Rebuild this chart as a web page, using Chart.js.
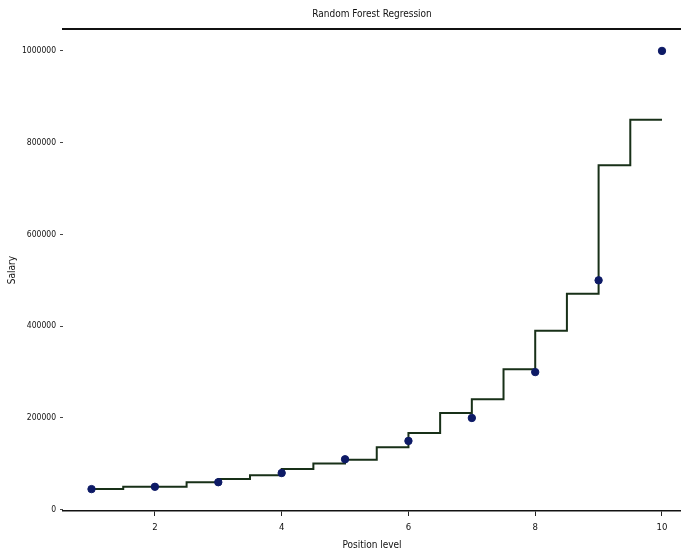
<!DOCTYPE html>
<html>
<head>
<meta charset="utf-8">
<script src="https://cdn.jsdelivr.net/npm/chart.js@4.4.1/dist/chart.umd.min.js"></script>
<style>
  html, body { margin: 0; padding: 0; background: #fff; }
  #wrap { width: 681px; height: 553px; position: relative; }
</style>
</head>
<body>
<div id="wrap"><canvas id="rfChart"></canvas></div>
<script>
// observed data (position level vs salary)
const levels = [1, 2, 3, 4, 5, 6, 7, 8, 9, 10];
const salaries = [45000, 50000, 60000, 80000, 110000, 150000, 200000, 300000, 500000, 1000000];

// random forest prediction
const stepX = [1, 1.5, 2, 2.5, 3, 3.5, 4, 4.5, 5, 5.5, 6, 6.5, 7, 7.5, 8, 8.5, 9, 9.5, 10];
const stepY = [45000, 50000, 50000, 60000, 67000, 75000, 89000, 101000, 109000, 136000,
  167000, 211000, 241000, 306000, 390000, 471000, 751000, 850000, 850000];

const xTicks = [2, 4, 6, 8, 10];
const yTicks = [0, 200000, 400000, 600000, 800000, 1000000];

const FONT = "'Liberation Sans Narrow', 'DejaVu Sans Condensed', 'Liberation Sans', sans-serif";

const ctx = document.getElementById("rfChart");

new Chart(ctx, {
  type: "line",
  data: {
    datasets: [
      {
        type: "scatter",
        label: "Actual",
        data: levels.map((x, i) => ({ x: x, y: salaries[i] })),
        backgroundColor: "#0d1a66",
        borderColor: "#0d1a66",
        pointRadius: 3.7,
        pointHoverRadius: 3.7,
      },
      {
        label: "Prediction",
        data: stepX.map((x, i) => ({ x: x, y: stepY[i] })),
        borderColor: "#183018",
        borderWidth: 2,
        pointRadius: 0,
        stepped: "before",
        fill: false,
      },
    ],
  },
  options: {
    responsive: true,
    maintainAspectRatio: false,
    animation: false,
    layout: { padding: 0, autoPadding: false },
    plugins: {
      legend: { display: false },
      tooltip: { enabled: false },
      title: {
        display: true,
        text: "Random Forest Regression",
        fullSize: false,
        color: "#111",
        font: { family: FONT, size: 10, weight: "normal", lineHeight: 1.2 },
        padding: { top: 8, bottom: 9 },
      },
    },
    scales: {
      x: {
        type: "linear",
        position: "bottom",
        min: 0.55,
        max: 10.3,
        afterFit: (s) => { s.height = 42; },
        afterBuildTicks: (s) => { s.ticks = xTicks.map((v) => ({ value: v })); },
        grid: { drawOnChartArea: false, drawTicks: true, tickLength: 5, color: "#222" },
        border: { display: true, color: "#111", width: 1.5 },
        ticks: {
          color: "#111",
          padding: 6,
          maxRotation: 0,
          font: { family: FONT, size: 9.5 },
          callback: (v) => String(v),
        },
        title: {
          display: true,
          text: "Position level",
          color: "#111",
          font: { family: FONT, size: 10 },
          padding: { top: 0, bottom: 2 },
        },
      },
      xTop: {
        type: "linear",
        position: "top",
        min: 0.55,
        max: 10.3,
        afterFit: (s) => { s.height = 0; },
        grid: { display: false, drawTicks: false },
        border: { display: true, color: "#111", width: 2 },
        ticks: { display: false },
      },
      y: {
        type: "linear",
        min: -2750,
        max: 1047750,
        afterFit: (s) => { s.width = 63; },
        afterBuildTicks: (s) => { s.ticks = yTicks.map((v) => ({ value: v })); },
        grid: { drawOnChartArea: false, drawTicks: true, tickLength: 3, color: "#444" },
        border: { display: false },
        ticks: {
          color: "#111",
          padding: 4,
          font: { family: FONT, size: 8.5 },
          callback: (v) => String(v),
        },
        title: {
          display: true,
          text: "Salary",
          color: "#111",
          font: { family: FONT, size: 10 },
          padding: { top: 6, bottom: 0 },
        },
      },
    },
  },
});
</script>
</body>
</html>
